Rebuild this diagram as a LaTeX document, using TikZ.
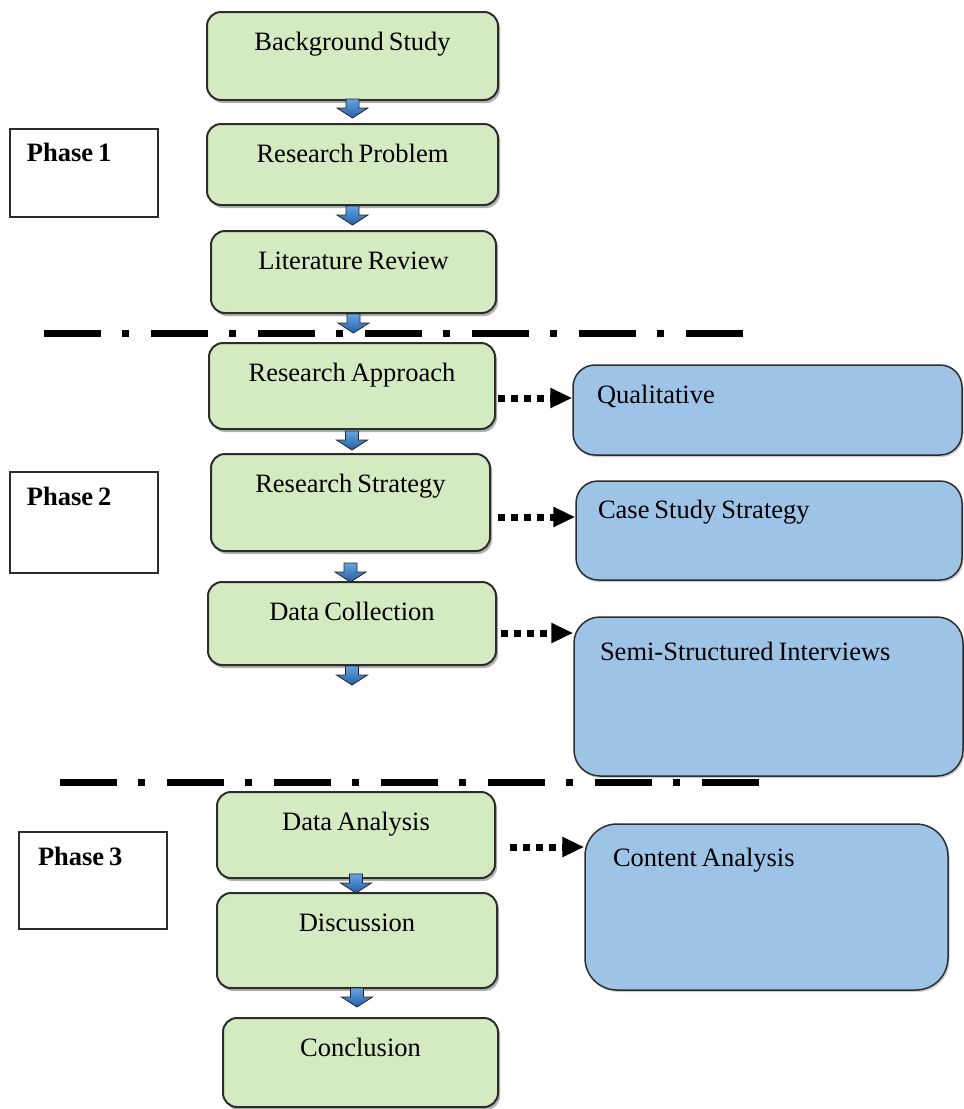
\documentclass[tikz,border=0pt]{standalone}
\usepackage{fontspec}
\setmainfont{Liberation Serif}[WordSpace=0.75]
\usetikzlibrary{shadows,calc,arrows.meta}

\definecolor{boxgreen}{RGB}{212,234,193}
\definecolor{boxblue}{RGB}{157,195,230}
\definecolor{edgegray}{RGB}{45,45,45}
\definecolor{arrowtop}{RGB}{100,165,228}
\definecolor{arrowbot}{RGB}{35,95,165}

% short block arrow hanging below a step box: #1 = node, #2 = extra drop
\newcommand{\blockdown}[2]{%
  \draw[blockarr] ($(#1.south)+(-6.5,#2)$) -- ++(13,0) -- ++(0,9) -- ++(9,0)
    -- ++(-15.5,10) -- ++(-15.5,-10) -- ++(9,0) -- cycle;}

\begin{document}
\begin{tikzpicture}[x=1pt,y=-1pt,
  font=\fontsize{26.5}{30}\selectfont,
  stepbox/.style={draw=edgegray, line width=2pt, fill=boxgreen,
    rounded corners=14pt, inner xsep=0pt, inner ysep=0pt, text height=38.5pt,
    drop shadow={shadow xshift=2pt, shadow yshift=-3pt, opacity=0.3, fill=black}},
  phasebox/.style={draw=edgegray, line width=1.6pt, fill=white, align=flush left,
    inner ysep=0pt, font=\fontsize{26.5}{30}\selectfont\bfseries},
  resbox/.style={draw=edgegray, line width=1.5pt, fill=boxblue, align=flush left,
    inner ysep=0pt, rounded corners=22pt,
    drop shadow={shadow xshift=1.5pt, shadow yshift=-2pt, opacity=0.2, fill=black}},
  blockarr/.style={draw=black!85, line width=0.8pt, line join=miter,
    top color=arrowtop, bottom color=arrowbot},
  dotarr/.style={line width=7pt, dash pattern=on 7pt off 6pt,
    -{Triangle[length=22pt,width=19pt]}},
  phaseline/.style={line width=7pt, dash pattern=on 57pt off 21pt on 7pt off 22pt}
]
\useasboundingbox (0,0) rectangle (964,1109);

% phase separators
\draw[phaseline] (44,333) -- (743,333);
\draw[phaseline] (60,782) -- (759,782);

% main sequence of steps
\node[stepbox, minimum width=291pt, text depth=49.5pt] (bg) at (352.5,56)   {Background Study};
\node[stepbox, minimum width=291pt, text depth=42.5pt] (rp) at (352.5,164.5) {Research Problem};
\node[stepbox, minimum width=285pt, text depth=43.5pt] (lr) at (353.5,272)  {Literature Review};
\node[stepbox, minimum width=286pt, text depth=47.5pt] (ra) at (352,386)    {Research Approach};
\node[stepbox, minimum width=279pt, text depth=58.5pt] (rs) at (350.5,502.5) {Research Strategy};
\node[stepbox, minimum width=288pt, text depth=44.5pt] (dc) at (352,623.5)  {Data Collection};
\node[stepbox, minimum width=278pt, text depth=47.5pt] (da) at (356,835)    {Data Analysis};
\node[stepbox, minimum width=280pt, text depth=56.5pt] (di) at (357,940.5)  {Discussion};
\node[stepbox, minimum width=275pt, text depth=50.5pt] (co) at (360.5,1062.5) {Conclusion};

% arrows between steps
\blockdown{bg}{-2}
\blockdown{rp}{0}
\blockdown{lr}{0}
\blockdown{ra}{1}
\blockdown{rs}{11}
\blockdown{dc}{0}
\blockdown{da}{-5}
\blockdown{di}{-1}

% phase labels
\node[phasebox, inner xsep=17pt, text width=114pt, text height=32.5pt, text depth=55.5pt] (p1) at (84,173) {Phase 1};
\node[phasebox, inner xsep=17pt, text width=114pt, text height=33.5pt, text depth=67.5pt] (p2) at (84,522.5) {Phase 2};
\node[phasebox, inner xsep=19pt, text width=110pt, text height=33.5pt, text depth=63.5pt] (p3) at (93,880.5) {Phase 3};

% chosen methods
\node[resbox, inner xsep=24pt, text width=341pt, text height=38.5pt, text depth=51.5pt] (qu) at (767.5,410) {Qualitative};
\node[resbox, inner xsep=22pt, text width=342pt, text height=37.5pt, text depth=61.5pt] (cs) at (769,530.5) {Case Study Strategy};
\node[resbox, inner xsep=26pt, text width=337pt, text height=43.5pt, text depth=115.5pt, rounded corners=26pt] (ss) at (768.5,696.5) {Semi-Structured Interviews};
\node[resbox, inner xsep=28pt, text width=307pt, text height=42.5pt, text depth=123.5pt, rounded corners=32pt] (ca) at (766.5,907) {Content Analysis};

% links from steps to methods
\coordinate (s1) at ($(ra.east)+(2,12)$);
\coordinate (s2) at ($(rs.east)+(7,14.5)$);
\coordinate (s3) at ($(dc.east)+(4,9.5)$);
\coordinate (s4) at ($(da.east)+(14,12)$);
\draw[dotarr] (s1) -- (s1 -| qu.west);
\draw[dotarr] (s2) -- (s2 -| cs.west);
\draw[dotarr] (s3) -- (s3 -| ss.west);
\draw[dotarr] (s4) -- (s4 -| ca.west);
\end{tikzpicture}
\end{document}
